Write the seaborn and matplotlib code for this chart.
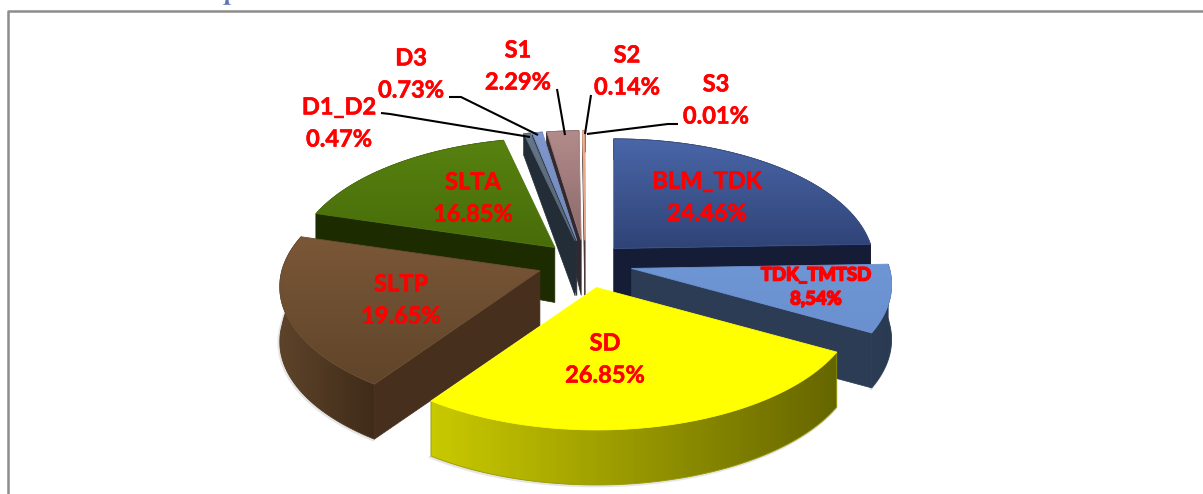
import numpy as np
import matplotlib
matplotlib.use('Agg')
import matplotlib.pyplot as plt
import matplotlib.patheffects as pe
from matplotlib.patches import Polygon
import seaborn as sns

# Data
categories = ['BLM_TDK', 'TDK_TMTSD', 'SD', 'SLTP', 'SLTA', 'D1_D2', 'D3', 'S1', 'S2', 'S3']
shares = [24.46, 8.54, 26.85, 19.65, 16.85, 0.47, 0.73, 2.29, 0.14, 0.01]

# top colours (upper, lower), rim colours (left, right), colour of the flat side wall
top_colors = [('#4a66a8', '#2f4376'), ('#6e95d4', '#6a90d0'), ('#ffff00', '#ffff00'),
              ('#7a5737', '#60452a'), ('#578210', '#486c0a'), ('#66788a', '#55606e'),
              ('#8198cc', '#6f86ba'), ('#b38b8b', '#8a6a6a'), ('#f2b595', '#e0a080'),
              ('#f2b595', '#e0a080')]
rim_colors = [('#151c35', '#151c35'), ('#2c3c55', '#2a3a52'), ('#c9c900', '#666600'),
              ('#5e4329', '#3f2b1a'), ('#1d2b00', '#1d2b00'), ('#25303c', '#25303c'),
              ('#25303c', '#25303c'), ('#3c3032', '#3c3032'), ('#4a3a3a', '#4a3a3a'),
              ('#4a3a3a', '#4a3a3a')]
wall_colors = ['#151c35', '#2c3c55', '#666600', '#472f1e', '#1d2b00',
               '#232d38', '#262f3a', '#33292c', '#4a3a3a', '#4a3a3a']
explode = [0.16, 0.185, 0.2, 0.185, 0.17, 0.18, 0.18, 0.18, 0.18, 0.18]
draw_order = [4, 0, 9, 8, 7, 6, 5, 1, 3, 2]

# label centres, in picture pixels
label_pos = [(707, 197), (816, 287), (605, 359), (401, 300), (473, 198),
             (339, 123), (411, 74), (518, 66), (627, 71), (716, 100)]
leaders = [[(381, 113), (390, 114), (530, 137)],
           [(449, 97), (461, 97), (538, 135)],
           [(557, 89), (565, 135)],
           [(591, 95), (585, 134)],
           [(678, 124), (668, 124), (587, 134)]]

CX, CY = 585, 263
RX, RY = 258, 126
PERSP = 0.13
DEPTH = 55

sns.set_theme(style='white')
plt.rcParams['font.family'] = ['Lato', 'DejaVu Sans']

fig = plt.figure(figsize=(12.03, 4.94), dpi=100)
ax = fig.add_axes([0, 0, 1, 1])
ax.set_axis_off()


def project(theta, r, mid, off):
    # theta runs clockwise from twelve o'clock, v grows towards the viewer
    u0 = r * np.sin(theta)
    v0 = -r * np.cos(theta)
    s = 1 + PERSP * v0
    return (CX + RX * (off * np.sin(mid) + u0 * s), CY + RY * (-off * np.cos(mid) + v0 * s), v0)


def depth(v):
    return DEPTH + 34 * np.minimum(v, 0)


def grad_fill(verts, c1, c2, horizontal, z):
    verts = np.asarray(verts)
    x0, y0 = verts.min(axis=0)
    x1, y1 = verts.max(axis=0)
    ramp = np.linspace(0, 1, 128)
    ramp = ramp[None, :] if horizontal else ramp[:, None]
    cmap = sns.blend_palette([c1, c2], n_colors=128, as_cmap=True)
    im = ax.imshow(ramp, extent=(x0, x1, y1, y0), cmap=cmap, aspect='auto', zorder=z)
    edge = Polygon(verts, closed=True, fc='none', ec=sns.blend_palette([c1, c2], 3)[1], lw=0.6, zorder=z)
    ax.add_patch(edge)
    im.set_clip_path(edge)


edges = np.deg2rad(np.concatenate([[0], np.cumsum(shares)]) * 3.6)
z = 2
for i in draw_order:
    t0, t1 = edges[i], edges[i + 1]
    mid = (t0 + t1) / 2
    arc = np.linspace(t0, t1, 80)
    ax_, ay_, _ = project(mid, 0.0, mid, explode[i])
    rx, ry, rv = project(arc, 1.0, mid, explode[i])
    d = depth(rv)

    # rim wall with a soft shadow below it
    if i in (1, 2, 3):
        ax.plot(rx - 1, ry + d + 1, color='#808080', lw=2, alpha=0.2, zorder=z, solid_capstyle='round')
    z += 1
    rim = np.vstack([np.column_stack([rx, ry]), np.column_stack([rx, ry + d])[::-1]])
    grad_fill(rim, rim_colors[i][0], rim_colors[i][1], True, z)
    z += 1

    # flat walls, only the ones that look towards the viewer
    for t, side, k in ((t0, -np.sin(t0), 0), (t1, np.sin(t1), -1)):
        if side > 0:
            wall = [(ax_, ay_), (rx[k], ry[k]), (rx[k], ry[k] + d[k]), (ax_, ay_ + DEPTH)]
            ax.add_patch(Polygon(wall, closed=True, fc=wall_colors[i], ec=wall_colors[i], lw=0.5, zorder=z))
            z += 1

    # top face
    top = np.vstack([[(ax_, ay_)], np.column_stack([rx, ry])])
    grad_fill(top, top_colors[i][0], top_colors[i][1], False, z)
    z += 1

for pts in leaders:
    xs, ys = zip(*pts)
    ax.plot(xs, ys, color='black', lw=1.5, zorder=z, solid_capstyle='butt')

for name, val, pos in zip(categories, shares, label_pos):
    if name == 'TDK_TMTSD':
        t = ax.text(pos[0], pos[1], f'{name}\n{val:.2f}%'.replace('.', ','), color='red', fontsize=13.3,
                    fontweight='bold', ha='center', va='center', linespacing=1.5, zorder=z + 1)
        t.set_path_effects([pe.withStroke(linewidth=1.2, foreground='red')])
    else:
        t = ax.text(pos[0], pos[1], f'{name}\n{val:.2f}%', color='red', fontsize=17, fontweight='bold',
                    ha='center', va='center', linespacing=1.48, zorder=z + 1)
        t.set_path_effects([pe.withStroke(linewidth=0.4, foreground='red')])

# surrounding box of the page, open at the bottom and on the right
ax.plot([8, 8, 1203], [494, 11, 11], color='#8c8c8c', lw=1.8, zorder=1)
# foot of a heading letter cut off by the top edge, too little of it to read
ax.add_patch(Polygon([(225.5, 0), (228.5, 0), (229, 3.5), (231.5, 4.8), (222.5, 4.8), (225, 3.5)],
                     closed=True, fc='#5b74b8', ec='none', zorder=1))

ax.set_xlim(0, 1203)
ax.set_ylim(494, 0)
fig.savefig('out.png', dpi=100, facecolor='white')
